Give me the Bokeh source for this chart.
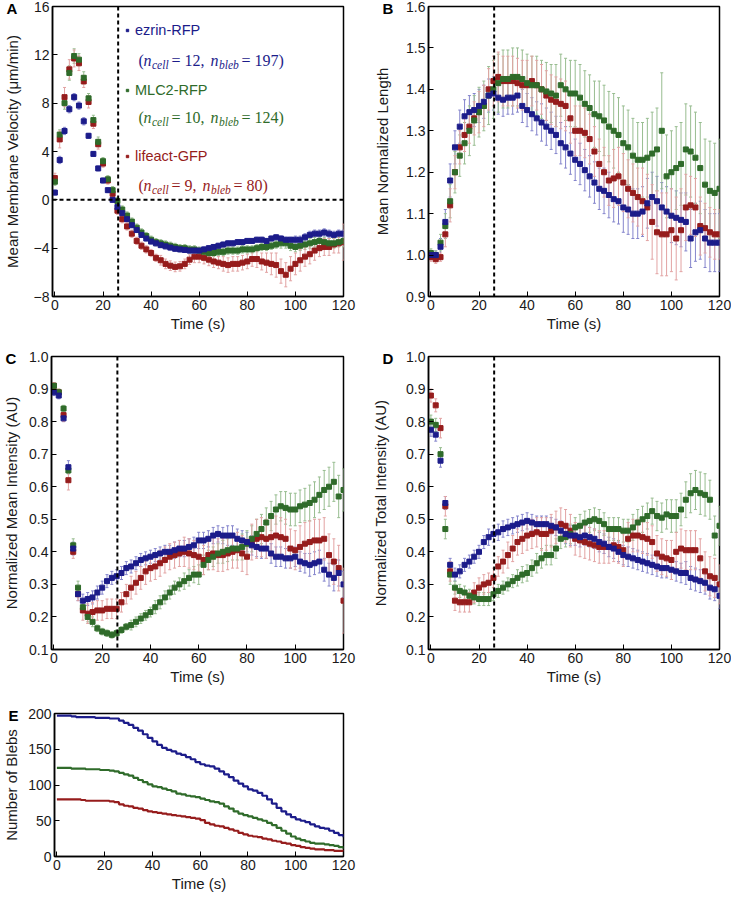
from bokeh.plotting import figure
from bokeh.layouts import column, row
from bokeh.models import (ColumnDataSource, Whisker, TeeHead, Span, Label, Legend, LegendItem,
                          FixedTicker, Range1d, PrintfTickFormatter, Title)
from bokeh.embed import file_html
from bokeh.resources import INLINE

# ---------------- data ----------------
T = list(range(0, 121, 2))          # time (s), sampled every 2 s
X_TICKS = [0, 20, 40, 60, 80, 100, 120]
DASH_T = 26.3                        # vertical dashed reference time (s)

SERIES = ["ezrin-RFP", "MLC2-RFP", "lifeact-GFP"]
N_CELL = [12, 10, 9]
N_BLEB = [197, 124, 80]

# A: mean membrane velocity (um/min)
A_EZRIN = [0.6, 3.3, 5.7, 7.5, 8.5, 7.8, 6.5, 5.3, 3.8, 2.6,
           1.6, 0.8, 0.0, -0.6, -1.1, -1.6, -2.1, -2.5, -2.9, -3.2,
           -3.45, -3.6, -3.75, -3.85, -3.95, -4.05, -4.1, -4.15, -4.2, -4.2,
           -4.2, -4.1, -4.0, -3.9, -3.8, -3.7, -3.6, -3.6, -3.5, -3.5,
           -3.4, -3.4, -3.3, -3.3, -3.4, -3.2, -3.1, -3.2, -3.3, -3.3,
           -3.3, -3.3, -3.1, -2.9, -2.8, -2.8, -2.7, -2.8, -2.9, -2.8,
           -2.8]
A_MLC2 = [1.5, 5.4, 8.0, 10.5, 11.9, 11.6, 10.1, 8.4, 6.6, 4.8,
          3.2, 1.7, 0.8, -0.1, -0.8, -1.3, -1.8, -2.3, -2.7, -3.0,
          -3.3, -3.5, -3.6, -3.7, -3.8, -3.9, -4.0, -4.0, -4.1, -4.1,
          -4.2, -4.3, -4.4, -4.4, -4.3, -4.3, -4.2, -4.2, -4.2, -4.1,
          -4.1, -4.1, -4.0, -3.9, -3.9, -3.8, -3.7, -3.6, -3.6, -3.8,
          -3.9, -3.8, -3.7, -3.6, -3.5, -3.4, -3.5, -3.6, -3.6, -3.5,
          -3.4]
A_LIFEACT = [1.8, 5.0, 8.5, 10.8, 11.7, 11.3, 9.8, 8.1, 6.3, 4.6,
             3.0, 1.6, 0.5, -0.9, -1.6, -2.2, -2.8, -3.4, -3.8, -4.1,
             -4.4, -4.8, -5.0, -5.3, -5.45, -5.55, -5.5, -5.3, -4.95, -4.7,
             -4.7, -4.8, -4.95, -5.1, -5.2, -5.3, -5.4, -5.3, -5.3, -5.2,
             -5.1, -4.9, -4.9, -5.1, -5.2, -5.3, -5.4, -5.9, -6.2, -5.7,
             -5.3, -5.0, -4.7, -4.5, -4.2, -4.0, -3.9, -3.9, -3.7, -3.6,
             -3.5]
A_EZRIN_ERR = [0.2, 0.3, 0.3, 0.3, 0.3, 0.3, 0.3, 0.2, 0.2, 0.2,
               0.2, 0.2, 0.2, 0.2, 0.2, 0.2, 0.2, 0.2, 0.2, 0.2,
               0.2, 0.2, 0.2, 0.2, 0.2, 0.2, 0.2, 0.2, 0.2, 0.2,
               0.2, 0.2, 0.2, 0.2, 0.2, 0.2, 0.2, 0.2, 0.2, 0.2,
               0.2, 0.2, 0.2, 0.2, 0.2, 0.2, 0.2, 0.2, 0.2, 0.2,
               0.3, 0.3, 0.3, 0.3, 0.3, 0.3, 0.3, 0.3, 0.3, 0.3,
               0.3]
A_MLC2_ERR = [0.3, 0.4, 0.5, 0.6, 0.6, 0.5, 0.5, 0.4, 0.4, 0.4,
              0.3, 0.3, 0.3, 0.3, 0.3, 0.3, 0.3, 0.3, 0.3, 0.3,
              0.3, 0.3, 0.3, 0.3, 0.3, 0.3, 0.3, 0.3, 0.3, 0.3,
              0.3, 0.3, 0.3, 0.3, 0.3, 0.3, 0.3, 0.3, 0.3, 0.3,
              0.3, 0.3, 0.3, 0.3, 0.3, 0.3, 0.3, 0.4, 0.4, 0.4,
              0.4, 0.4, 0.4, 0.4, 0.4, 0.4, 0.4, 0.4, 0.4, 0.4,
              0.5]
A_LIFEACT_ERR = [0.4, 0.7, 0.8, 0.8, 0.7, 0.6, 0.5, 0.5, 0.4, 0.4,
                 0.3, 0.3, 0.3, 0.3, 0.3, 0.3, 0.3, 0.3, 0.3, 0.3,
                 0.3, 0.3, 0.4, 0.4, 0.4, 0.4, 0.4, 0.4, 0.4, 0.5,
                 0.5, 0.5, 0.5, 0.5, 0.5, 0.6, 0.6, 0.6, 0.6, 0.6,
                 0.6, 0.6, 0.7, 0.7, 0.8, 0.9, 1.0, 1.0, 1.0, 1.0,
                 0.9, 0.9, 0.8, 0.8, 0.8, 0.7, 0.7, 0.7, 0.7, 0.8,
                 1.5]

# B: mean normalized length
B_EZRIN = [1.0, 1.0, 1.02, 1.08, 1.18, 1.26, 1.31, 1.335, 1.345, 1.35,
           1.36, 1.37, 1.385, 1.39, 1.38, 1.375, 1.38, 1.38, 1.385, 1.36,
           1.35, 1.34, 1.33, 1.32, 1.31, 1.30, 1.29, 1.27, 1.26, 1.245,
           1.23, 1.22, 1.205, 1.19, 1.175, 1.16, 1.155, 1.145, 1.135, 1.13,
           1.115, 1.11, 1.10, 1.10, 1.105, 1.125, 1.14, 1.13, 1.115, 1.105,
           1.095, 1.09, 1.085, 1.08, 1.04, 1.055, 1.06, 1.04, 1.03, 1.03,
           1.03]
B_MLC2 = [1.005, 1.0, 1.03, 1.07, 1.13, 1.20, 1.24, 1.27, 1.30, 1.325,
          1.345, 1.36, 1.385, 1.40, 1.415, 1.425, 1.425, 1.43, 1.43, 1.425,
          1.415, 1.41, 1.41, 1.40, 1.395, 1.39, 1.385, 1.41, 1.40, 1.39,
          1.39, 1.38, 1.365, 1.355, 1.34, 1.335, 1.325, 1.31, 1.30, 1.29,
          1.27, 1.26, 1.24, 1.23, 1.23, 1.235, 1.245, 1.255, 1.30, 1.19,
          1.20, 1.21, 1.22, 1.255, 1.25, 1.235, 1.21, 1.17, 1.155, 1.15,
          1.16]
B_LIFEACT = [0.995, 0.99, 0.995, 1.05, 1.12, 1.20, 1.26, 1.29, 1.31, 1.33,
             1.345, 1.36, 1.40, 1.42, 1.43, 1.42, 1.42, 1.42, 1.415, 1.41,
             1.41, 1.42, 1.41, 1.40, 1.385, 1.375, 1.37, 1.365, 1.36, 1.33,
             1.30, 1.30, 1.295, 1.28, 1.25, 1.22, 1.20, 1.18, 1.185, 1.19,
             1.175, 1.16, 1.15, 1.14, 1.13, 1.115, 1.08, 1.055, 1.05, 1.05,
             1.06, 1.04, 1.06, 1.115, 1.12, 1.115, 1.07, 1.065, 1.055, 1.05,
             1.05]
B_EZRIN_ERR = [0.01, 0.01, 0.02, 0.03, 0.04, 0.04, 0.04, 0.04, 0.04, 0.04,
               0.04, 0.04, 0.04, 0.04, 0.04, 0.04, 0.04, 0.04, 0.04, 0.04,
               0.04, 0.04, 0.04, 0.045, 0.045, 0.045, 0.045, 0.05, 0.05, 0.05,
               0.05, 0.05, 0.05, 0.05, 0.05, 0.05, 0.055, 0.055, 0.055, 0.055,
               0.06, 0.06, 0.06, 0.06, 0.06, 0.06, 0.06, 0.06, 0.06, 0.06,
               0.065, 0.065, 0.065, 0.07, 0.07, 0.07, 0.07, 0.07, 0.07, 0.07,
               0.07]
B_MLC2_ERR = [0.01, 0.01, 0.02, 0.03, 0.04, 0.05, 0.05, 0.05, 0.06, 0.06,
              0.06, 0.06, 0.07, 0.07, 0.07, 0.07, 0.07, 0.07, 0.07, 0.07,
              0.07, 0.07, 0.07, 0.07, 0.07, 0.07, 0.075, 0.075, 0.075, 0.08,
              0.08, 0.08, 0.08, 0.08, 0.08, 0.085, 0.085, 0.085, 0.09, 0.09,
              0.09, 0.09, 0.09, 0.09, 0.09, 0.095, 0.1, 0.1, 0.14, 0.1,
              0.1, 0.1, 0.1, 0.11, 0.11, 0.11, 0.11, 0.11, 0.12, 0.12,
              0.12]
B_LIFEACT_ERR = [0.01, 0.01, 0.01, 0.03, 0.04, 0.04, 0.04, 0.04, 0.04, 0.04,
                 0.05, 0.05, 0.05, 0.06, 0.06, 0.06, 0.06, 0.06, 0.06, 0.06,
                 0.06, 0.06, 0.06, 0.06, 0.06, 0.06, 0.06, 0.06, 0.06, 0.06,
                 0.06, 0.06, 0.06, 0.06, 0.06, 0.06, 0.06, 0.06, 0.07, 0.07,
                 0.07, 0.07, 0.07, 0.07, 0.08, 0.08, 0.09, 0.1, 0.1, 0.1,
                 0.1, 0.1, 0.1, 0.08, 0.07, 0.07, 0.07, 0.06, 0.06, 0.06,
                 0.06]

# C: normalized mean intensity (AU)
C_EZRIN = [0.89, 0.88, 0.81, 0.66, 0.41, 0.27, 0.25, 0.255, 0.26, 0.275,
           0.29, 0.31, 0.32, 0.325, 0.335, 0.35, 0.355, 0.365, 0.375, 0.38,
           0.385, 0.39, 0.395, 0.40, 0.40, 0.405, 0.41, 0.41, 0.415, 0.42,
           0.435, 0.435, 0.44, 0.45, 0.455, 0.45, 0.45, 0.45, 0.44, 0.435,
           0.43, 0.42, 0.415, 0.41, 0.41, 0.395, 0.385, 0.385, 0.38, 0.38,
           0.385, 0.37, 0.365, 0.36, 0.365, 0.37, 0.345, 0.33, 0.32, 0.335,
           0.30]
C_MLC2 = [0.91, 0.89, 0.84, 0.65, 0.42, 0.29, 0.23, 0.20, 0.185, 0.165,
          0.155, 0.15, 0.145, 0.15, 0.16, 0.17, 0.175, 0.185, 0.195, 0.205,
          0.215, 0.23, 0.245, 0.26, 0.275, 0.29, 0.30, 0.31, 0.32, 0.33,
          0.33, 0.36, 0.375, 0.385, 0.395, 0.40, 0.405, 0.41, 0.41, 0.415,
          0.425, 0.44, 0.455, 0.47, 0.49, 0.51, 0.53, 0.54, 0.535, 0.53,
          0.53, 0.54, 0.545, 0.55, 0.56, 0.575, 0.59, 0.60, 0.615, 0.57,
          0.59]
C_LIFEACT = [0.91, 0.89, 0.82, 0.62, 0.40, 0.27, 0.22, 0.21, 0.215, 0.22,
             0.22, 0.225, 0.225, 0.225, 0.245, 0.27, 0.29, 0.305, 0.32, 0.34,
             0.35, 0.355, 0.365, 0.375, 0.385, 0.39, 0.395, 0.40, 0.395, 0.39,
             0.385, 0.375, 0.39, 0.395, 0.39, 0.39, 0.395, 0.40, 0.405, 0.395,
             0.385, 0.43, 0.44, 0.445, 0.44, 0.445, 0.45, 0.445, 0.44, 0.41,
             0.405, 0.415, 0.425, 0.43, 0.435, 0.435, 0.44, 0.39, 0.37, 0.35,
             0.25]
C_EZRIN_ERR = [0.01, 0.01, 0.01, 0.02, 0.02, 0.02, 0.02, 0.02, 0.02, 0.02,
               0.02, 0.02, 0.02, 0.02, 0.02, 0.02, 0.02, 0.02, 0.02, 0.02,
               0.02, 0.02, 0.02, 0.02, 0.02, 0.025, 0.025, 0.025, 0.025, 0.025,
               0.025, 0.025, 0.025, 0.025, 0.025, 0.025, 0.03, 0.03, 0.03, 0.03,
               0.03, 0.03, 0.03, 0.03, 0.03, 0.03, 0.03, 0.03, 0.03, 0.03,
               0.03, 0.03, 0.03, 0.035, 0.035, 0.035, 0.035, 0.035, 0.04, 0.04,
               0.04]
C_MLC2_ERR = [0.01, 0.01, 0.01, 0.01, 0.02, 0.02, 0.015, 0.015, 0.015, 0.01,
              0.01, 0.01, 0.01, 0.01, 0.01, 0.01, 0.015, 0.015, 0.015, 0.015,
              0.015, 0.02, 0.02, 0.02, 0.02, 0.02, 0.02, 0.025, 0.025, 0.025,
              0.03, 0.03, 0.03, 0.03, 0.03, 0.035, 0.035, 0.035, 0.035, 0.04,
              0.04, 0.04, 0.045, 0.045, 0.045, 0.045, 0.045, 0.045, 0.05, 0.05,
              0.05, 0.05, 0.05, 0.055, 0.055, 0.055, 0.06, 0.06, 0.06, 0.065,
              0.065]
C_LIFEACT_ERR = [0.01, 0.01, 0.02, 0.03, 0.02, 0.02, 0.03, 0.03, 0.03, 0.03,
                 0.03, 0.03, 0.03, 0.03, 0.03, 0.03, 0.035, 0.035, 0.035, 0.04,
                 0.04, 0.04, 0.04, 0.04, 0.04, 0.04, 0.04, 0.045, 0.045, 0.045,
                 0.045, 0.045, 0.045, 0.05, 0.05, 0.05, 0.05, 0.05, 0.055, 0.055,
                 0.055, 0.055, 0.06, 0.06, 0.06, 0.06, 0.06, 0.06, 0.06, 0.06,
                 0.06, 0.065, 0.065, 0.065, 0.065, 0.065, 0.065, 0.065, 0.07, 0.07,
                 0.1]

# D: normalized total intensity (AU)
D_EZRIN = [0.775, 0.76, 0.68, 0.55, 0.36, 0.33, 0.34, 0.36, 0.37, 0.385,
           0.40, 0.43, 0.445, 0.455, 0.46, 0.47, 0.475, 0.48, 0.485, 0.49,
           0.495, 0.49, 0.485, 0.485, 0.485, 0.48, 0.475, 0.465, 0.455, 0.45,
           0.45, 0.445, 0.45, 0.445, 0.44, 0.43, 0.425, 0.415, 0.41, 0.40,
           0.39, 0.385, 0.38, 0.375, 0.37, 0.365, 0.36, 0.355, 0.35, 0.35,
           0.345, 0.34, 0.335, 0.335, 0.32, 0.315, 0.31, 0.305, 0.29, 0.285,
           0.265]
D_MLC2 = [0.80, 0.79, 0.70, 0.47, 0.33, 0.29, 0.28, 0.275, 0.265, 0.26,
          0.255, 0.255, 0.255, 0.27, 0.28, 0.29, 0.30, 0.31, 0.32, 0.33,
          0.335, 0.35, 0.365, 0.38, 0.39, 0.39, 0.41, 0.44, 0.445, 0.455,
          0.475, 0.48, 0.49, 0.495, 0.50, 0.495, 0.485, 0.47, 0.47, 0.47,
          0.465, 0.465, 0.475, 0.49, 0.50, 0.51, 0.525, 0.51, 0.505, 0.515,
          0.51, 0.51, 0.53, 0.56, 0.58, 0.59, 0.58, 0.575, 0.56, 0.45,
          0.48]
D_LIFEACT = [0.88, 0.85, 0.78, 0.54, 0.34, 0.25, 0.245, 0.245, 0.245, 0.275,
             0.29, 0.30, 0.305, 0.32, 0.355, 0.37, 0.39, 0.41, 0.43, 0.44,
             0.45, 0.455, 0.46, 0.455, 0.455, 0.465, 0.475, 0.485, 0.48, 0.465,
             0.44, 0.435, 0.43, 0.425, 0.42, 0.415, 0.415, 0.415, 0.42, 0.415,
             0.405, 0.44, 0.45, 0.45, 0.445, 0.44, 0.43, 0.395, 0.385, 0.38,
             0.375, 0.40, 0.41, 0.405, 0.405, 0.405, 0.38, 0.34, 0.325, 0.32,
             0.30]
D_EZRIN_ERR = [0.02, 0.02, 0.02, 0.02, 0.02, 0.02, 0.02, 0.02, 0.02, 0.02,
               0.02, 0.02, 0.025, 0.025, 0.025, 0.025, 0.025, 0.025, 0.025, 0.025,
               0.025, 0.025, 0.025, 0.025, 0.025, 0.025, 0.025, 0.03, 0.03, 0.03,
               0.03, 0.03, 0.03, 0.03, 0.03, 0.03, 0.03, 0.03, 0.03, 0.03,
               0.03, 0.03, 0.03, 0.03, 0.03, 0.03, 0.03, 0.03, 0.03, 0.03,
               0.03, 0.03, 0.03, 0.035, 0.035, 0.035, 0.035, 0.035, 0.035, 0.035,
               0.04]
D_MLC2_ERR = [0.02, 0.02, 0.02, 0.03, 0.03, 0.02, 0.02, 0.02, 0.02, 0.02,
              0.02, 0.02, 0.02, 0.02, 0.02, 0.02, 0.02, 0.02, 0.025, 0.025,
              0.025, 0.025, 0.03, 0.03, 0.03, 0.03, 0.03, 0.03, 0.03, 0.03,
              0.03, 0.035, 0.035, 0.035, 0.035, 0.035, 0.035, 0.035, 0.035, 0.035,
              0.035, 0.035, 0.04, 0.04, 0.04, 0.04, 0.04, 0.045, 0.045, 0.045,
              0.05, 0.05, 0.05, 0.055, 0.06, 0.06, 0.065, 0.065, 0.06, 0.06,
              0.06]
D_LIFEACT_ERR = [0.02, 0.02, 0.03, 0.03, 0.03, 0.03, 0.03, 0.03, 0.03, 0.03,
                 0.03, 0.03, 0.03, 0.03, 0.03, 0.035, 0.04, 0.04, 0.04, 0.045,
                 0.045, 0.045, 0.045, 0.05, 0.05, 0.05, 0.05, 0.05, 0.05, 0.05,
                 0.05, 0.05, 0.05, 0.05, 0.05, 0.05, 0.05, 0.05, 0.05, 0.05,
                 0.05, 0.05, 0.05, 0.05, 0.05, 0.05, 0.05, 0.055, 0.055, 0.055,
                 0.06, 0.06, 0.06, 0.06, 0.06, 0.06, 0.06, 0.06, 0.06, 0.06,
                 0.06]

# E: number of blebs
E_EZRIN = [197, 197, 197, 196, 195, 195, 195, 195, 194, 194,
           194, 193, 193, 190, 187, 184, 180, 176, 171, 166,
           161, 156, 152, 149, 147, 144, 142, 139, 136, 132,
           129, 127, 126, 123, 119, 115, 111, 106, 102, 98,
           94, 92, 89, 85, 80, 74, 68, 63, 59, 55,
           52, 50, 48, 45, 42, 40, 39, 36, 33, 30,
           27]
E_MLC2 = [124, 124, 124, 123, 123, 123, 122, 122, 122, 121,
          121, 120, 119, 117, 115, 113, 110, 107, 104, 101,
          98, 97, 95, 93, 91, 88, 87, 85, 84, 83,
          81, 79, 77, 76, 74, 70, 67, 63, 60, 58,
          56, 54, 52, 50, 47, 44, 40, 36, 32, 28,
          25, 23, 21, 19, 18, 18, 17, 16, 15, 13,
          11]
E_LIFEACT = [80, 80, 80, 80, 80, 79, 78, 78, 78, 78,
             78, 77, 76, 73, 71, 70, 68, 67, 65, 63,
             62, 61, 60, 59, 58, 57, 56, 55, 54, 53,
             51, 47, 45, 43, 42, 40, 38, 36, 33, 31,
             29, 28, 27, 25, 24, 22, 21, 19, 18, 16,
             15, 13, 12, 11, 10, 10, 9, 9, 8, 8,
             7]

# ---------------- style ----------------
COLORS = ["#1c1c8a", "#2f6b2a", "#961c1c"]
ERR_COLORS = ["#8585cc", "#98bd90", "#e2a3a3"]
SANS = "Liberation Sans"
SERIF = "Liberation Serif"
X_MIN = -1.0
TXT = "#1a1a1a"


def base_fig(width, height, bl, br, bt, bb, yr, yticks, ylabel, lab_standoff, fmt=None):
    p = figure(width=width, height=height, x_range=Range1d(X_MIN, 120),
               y_range=Range1d(*yr), output_backend="svg", toolbar_location=None,
               min_border_left=bl, min_border_right=br, min_border_top=bt,
               min_border_bottom=bb)
    p.xgrid.visible = False
    p.ygrid.visible = False
    p.outline_line_color = "black"
    p.outline_line_width = 1.5
    p.outline_line_alpha = 1.0
    p.xaxis.ticker = FixedTicker(ticks=X_TICKS)
    p.yaxis.ticker = FixedTicker(ticks=yticks)
    if fmt:
        p.yaxis.formatter = PrintfTickFormatter(format=fmt)
    for ax in (p.xaxis[0], p.yaxis[0]):
        ax.major_tick_in = 5
        ax.major_tick_out = 0
        ax.minor_tick_line_color = None
        ax.axis_line_color = "black"
        ax.axis_line_width = 1.5
        ax.major_tick_line_color = "black"
        ax.major_tick_line_width = 1
        ax.major_label_text_font = SANS
        ax.major_label_text_font_size = "14px"
        ax.major_label_text_color = TXT
        ax.axis_label_text_font = SANS
        ax.axis_label_text_font_size = "15px"
        ax.axis_label_text_font_style = "normal"
        ax.axis_label_text_color = TXT
        ax.major_label_standoff = 3
    p.xaxis.axis_label_standoff = 2
    p.yaxis.axis_label_standoff = lab_standoff
    p.xaxis.axis_label = "Time (s)"
    p.yaxis.axis_label = ylabel
    return p


def panel_letter(p, letter):
    p.add_layout(Title(text=letter, align="left", offset=-46, standoff=-20,
                       text_font=SANS, text_font_style="bold", text_font_size="15px",
                       text_color="black"), "above")


def add_series(p, ys, errs):
    srcs = []
    for y, e, c, ec in zip(ys, errs, COLORS, ERR_COLORS):
        lo = [v - d for v, d in zip(y, e)]
        hi = [v + d for v, d in zip(y, e)]
        src = ColumnDataSource(dict(t=T, y=y, lo=lo, hi=hi))
        p.add_layout(Whisker(source=src, base="t", lower="lo", upper="hi",
                             line_color=ec, line_width=1,
                             lower_head=TeeHead(size=3, line_color=ec, line_width=1),
                             upper_head=TeeHead(size=3, line_color=ec, line_width=1)))
        srcs.append(src)
    renderers = [None, None, None]
    for idx in (2, 1, 0):
        c = COLORS[idx]
        renderers[idx] = p.scatter("t", "y", source=srcs[idx], marker="square", size=5,
                                   fill_color=c, line_color=c)
    p.add_layout(Span(location=DASH_T, dimension="height", line_color="black",
                      line_dash="4 3", line_width=2))
    return renderers


# layout sizes (page has no margin in Bokeh's template)
W_L, W_R = 365, 366
A_H, CD_H, E_H = 290, 293, 143

# ---------------- panel A ----------------
pA = base_fig(W_L, 6 + A_H + 40, 50, 22, 6, 40, (-8, 16), [-8, -4, 0, 4, 8, 12, 16],
              "Mean Membrane Velocity (\u03bcm/min)", 10)
rA = add_series(pA, [A_EZRIN, A_MLC2, A_LIFEACT], [A_EZRIN_ERR, A_MLC2_ERR, A_LIFEACT_ERR])
pA.add_layout(Span(location=0, dimension="width", line_color="black",
                   line_dash="4 3", line_width=2))
panel_letter(pA, "A")

name_centers = [23, 83, 149]
sub_centers = [54, 111, 179]
for i in range(3):
    leg = Legend(items=[LegendItem(label=SERIES[i], renderers=[rA[i]])],
                 location=(72, A_H - name_centers[i] - 9), padding=0, margin=0,
                 spacing=0, glyph_width=6, glyph_height=12, label_standoff=5,
                 label_text_font=SANS, label_text_font_size="14.5px",
                 label_text_color=COLORS[i], border_line_color=None,
                 background_fill_alpha=0)
    pA.add_layout(leg)
    x2 = 33 + 13 + 8 * len(str(N_CELL[i])) + 4 + 6
    pieces = [("(", 0, "normal", "16px", 0),
              ("n", 5, "italic", "16px", 0),
              ("cell", 13.5, "italic", "11.5px", -4),
              ("= %d," % N_CELL[i], 33, "normal", "16px", 0),
              ("n", x2, "italic", "16px", 0),
              ("bleb", x2 + 8.5, "italic", "11.5px", -4),
              ("= %d)" % N_BLEB[i], x2 + 31, "normal", "16px", 0)]
    for txt, dx, style, size, dy in pieces:
        pA.add_layout(Label(x=X_MIN, y=16, x_offset=86 + dx,
                            y_offset=-sub_centers[i] + dy, text=txt,
                            text_font=SERIF, text_font_style=style, text_font_size=size,
                            text_color=COLORS[i], text_baseline="middle"))

# ---------------- panel B ----------------
pB = base_fig(W_R, 6 + A_H + 40, 63, 12, 6, 40, (0.9, 1.6),
              [0.9, 1.0, 1.1, 1.2, 1.3, 1.4, 1.5, 1.6], "Mean Normalized Length", 12, "%.1f")
add_series(pB, [B_EZRIN, B_MLC2, B_LIFEACT], [B_EZRIN_ERR, B_MLC2_ERR, B_LIFEACT_ERR])
panel_letter(pB, "B")

# ---------------- panels C, D ----------------
ticks_cd = [0.1, 0.2, 0.3, 0.4, 0.5, 0.6, 0.7, 0.8, 0.9, 1.0]
pC = base_fig(W_L, 20 + CD_H + 40, 50, 22, 20, 40, (0.1, 1.0), ticks_cd,
              "Normalized Mean Intensity (AU)", 6, "%.1f")
add_series(pC, [C_EZRIN, C_MLC2, C_LIFEACT], [C_EZRIN_ERR, C_MLC2_ERR, C_LIFEACT_ERR])
panel_letter(pC, "C")

pD = base_fig(W_R, 20 + CD_H + 40, 63, 12, 20, 40, (0.1, 1.0), ticks_cd,
              "Normalized Total Intensity (AU)", 14, "%.1f")
add_series(pD, [D_EZRIN, D_MLC2, D_LIFEACT], [D_EZRIN_ERR, D_MLC2_ERR, D_LIFEACT_ERR])
panel_letter(pD, "D")

# ---------------- panel E ----------------
pE = base_fig(W_L, 24 + E_H + 38, 50, 22, 24, 38, (0, 200), [0, 50, 100, 150, 200],
              "Number of Blebs", 5)
for y, c in zip([E_EZRIN, E_MLC2, E_LIFEACT], COLORS):
    pE.step(T, y, mode="after", line_color=c, line_width=2.2)
panel_letter(pE, "E")

layout = column(row(pA, pB), row(pC, pD), row(pE))
open("out.html", "w").write(file_html(layout, INLINE))
